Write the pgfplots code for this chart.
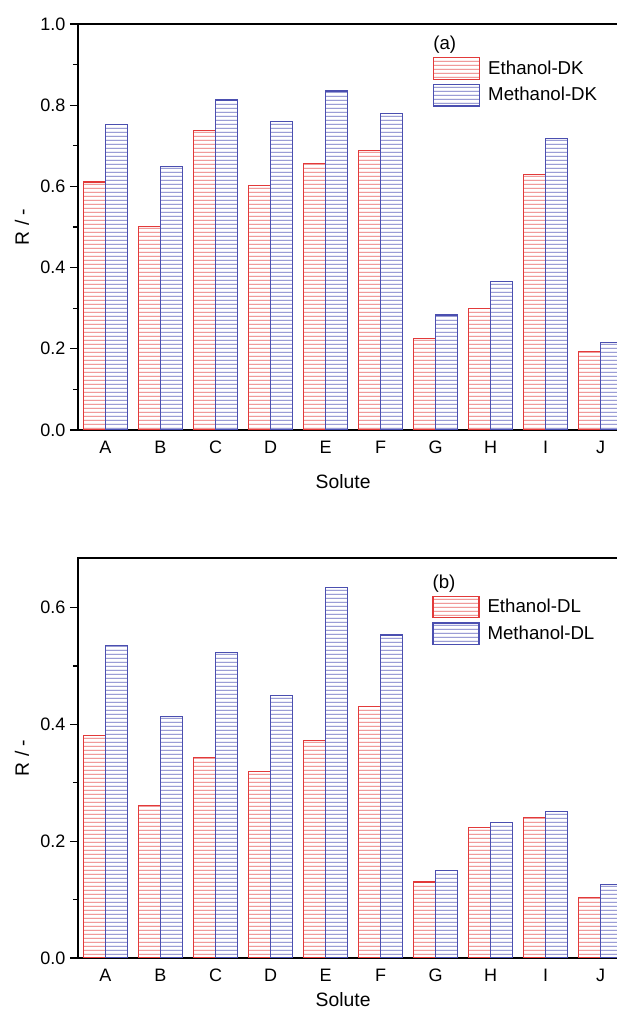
\documentclass[border={0pt 0pt -9.6pt 0pt}]{standalone}
\usepackage{fontspec}
\setmainfont{Liberation Sans}
\usepackage{pgfplots}
\pgfplotsset{compat=1.18}
\usetikzlibrary{patterns}
\definecolor{cRed}{HTML}{E23A3A}
\definecolor{cBlue}{HTML}{4B4FB0}
\definecolor{cRedL}{HTML}{E86464}
\definecolor{cBlueL}{HTML}{6669BE}

% coloured horizontal-line hatches
\pgfdeclarepatterninherentlycolored{redlines}{\pgfpoint{0pt}{0pt}}{\pgfpoint{10pt}{2.8pt}}{\pgfpoint{10pt}{2.8pt}}{%
  \pgfsetlinewidth{0.6pt}\pgfsetstrokecolor{cRedL}%
  \pgfpathmoveto{\pgfpoint{-0.1pt}{1.4pt}}\pgfpathlineto{\pgfpoint{10.1pt}{1.4pt}}\pgfusepath{stroke}}
\pgfdeclarepatterninherentlycolored{bluelines}{\pgfpoint{0pt}{0pt}}{\pgfpoint{10pt}{2.8pt}}{\pgfpoint{10pt}{2.8pt}}{%
  \pgfsetlinewidth{0.6pt}\pgfsetstrokecolor{cBlueL}%
  \pgfpathmoveto{\pgfpoint{-0.1pt}{1.4pt}}\pgfpathlineto{\pgfpoint{10.1pt}{1.4pt}}\pgfusepath{stroke}}

\pgfplotsset{
  solute/.style={
    scale only axis,
    width=412.5pt,
    xmin=-0.5, xmax=9.5, ymin=0,
    xtick={0,1,2,3,4,5,6,7,8,9},
    xticklabels={A,B,C,D,E,F,G,H,I,J},
    xtick pos=bottom, ytick pos=left,
    xtick align=inside, ytick align=outside,
    major tick length=6pt, minor tick length=3.75pt,
    axis line style={line width=1.4pt},
    tick style={line width=1pt, black},
    tick label style={font=\fontsize{13.5}{15}\selectfont},
    xticklabel style={yshift=-5pt},
    label style={font=\fontsize{14.5}{16}\selectfont},
    xlabel={Solute}, ylabel={R / -},
    ylabel style={at={(axis description cs:-0.102,0.5)}, anchor=center},
    legend style={anchor=north west, draw=none, fill=none,
      inner sep=0pt, outer sep=0pt, font=\fontsize{14}{16}\selectfont,
      row sep=3pt, /tikz/column sep=6pt,
      nodes={inner sep=0pt}, cells={anchor=west}},
    legend image code/.code={\draw[##1] (0pt,-8.1pt) rectangle (34.5pt,8.1pt);},
  },
  eth/.style={ybar, bar width=0.4, bar shift=-0.2, draw=cRed, line width=0.9pt,
    pattern=redlines},
  met/.style={ybar, bar width=0.4, bar shift=0.2, draw=cBlue, line width=0.9pt,
    pattern=bluelines},
}

\begin{document}
\begin{tikzpicture}
\path (0,0) rectangle (462pt,762pt);

% (a) DK
\begin{axis}[solute,
    at={(58.5pt,439.5pt)}, anchor=south west,
    height=304.5pt, ymax=1.0,
    ytick={0,0.2,0.4,0.6,0.8,1.0},
    yticklabels={0.0,0.2,0.4,0.6,0.8,1.0},
    minor ytick={0.1,0.3,0.5,0.7,0.9},
    xlabel style={at={(axis description cs:0.482,-0.128)}, anchor=center},
    legend style={at={(axis description cs:0.6455,0.9187)}},
]
\addplot[eth] coordinates {
  (0,0.611) (1,0.502) (2,0.737) (3,0.603) (4,0.656)
  (5,0.689) (6,0.226) (7,0.300) (8,0.629) (9,0.194)
};
\addlegendentry{Ethanol-DK}
\addplot[met] coordinates {
  (0,0.752) (1,0.649) (2,0.813) (3,0.759) (4,0.835)
  (5,0.779) (6,0.283) (7,0.366) (8,0.717) (9,0.216)
};
\addlegendentry{Methanol-DK}
\node[anchor=west, inner sep=0pt, font=\fontsize{14}{16}\selectfont]
  at (axis description cs:0.6455,0.948) {(a)};
\end{axis}

% (b) DL
\begin{axis}[solute,
    at={(58.5pt,43.5pt)}, anchor=south west,
    height=300pt, ymax=0.685,
    ytick={0,0.2,0.4,0.6},
    yticklabels={0.0,0.2,0.4,0.6},
    minor ytick={0.1,0.3,0.5},
    xlabel style={at={(axis description cs:0.482,-0.105)}, anchor=center},
    legend style={at={(axis description cs:0.6442,0.906)}},
]
\addplot[eth] coordinates {
  (0,0.381) (1,0.261) (2,0.344) (3,0.320) (4,0.373)
  (5,0.430) (6,0.130) (7,0.224) (8,0.241) (9,0.103)
};
\addlegendentry{Ethanol-DL}
\addplot[met] coordinates {
  (0,0.535) (1,0.413) (2,0.523) (3,0.449) (4,0.634)
  (5,0.553) (6,0.150) (7,0.232) (8,0.251) (9,0.126)
};
\addlegendentry{Methanol-DL}
\node[anchor=west, inner sep=0pt, font=\fontsize{14}{16}\selectfont]
  at (axis description cs:0.6442,0.936) {(b)};
\end{axis}
\end{tikzpicture}
\end{document}
